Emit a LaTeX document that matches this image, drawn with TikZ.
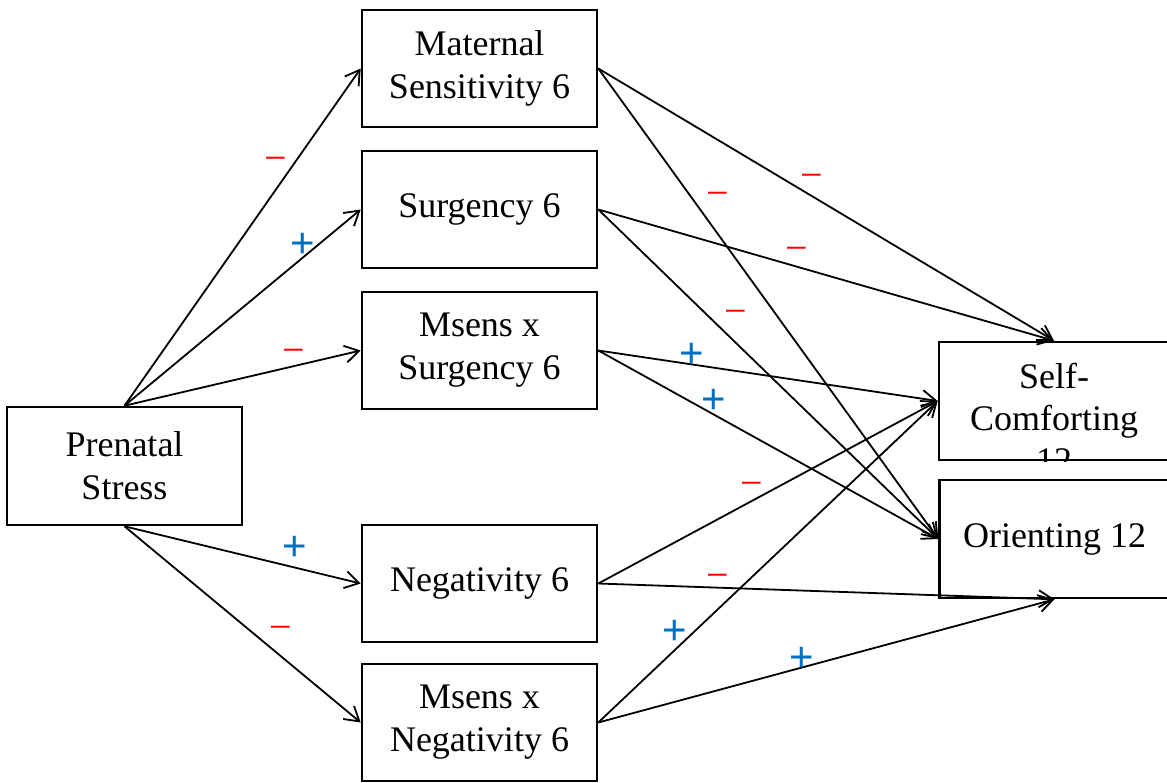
\documentclass[tikz,border=0pt]{standalone}
\usepackage{fontspec}
\setmainfont{Liberation Serif}
\newfontfamily\signfont{Liberation Sans}
\usetikzlibrary{arrows.meta}
\definecolor{sred}{RGB}{255,0,0}
\definecolor{sblue}{RGB}{0,112,192}
\begin{document}
\begin{tikzpicture}[x=1pt,y=-1pt,
  box/.style={draw, line width=2.6pt, minimum width=235pt, minimum height=117pt,
              inner sep=0pt, align=center, font=\fontsize{36}{43}\selectfont},
  outbox/.style={box, minimum width=230pt, minimum height=118pt},
  link/.style={line width=1.8pt, -{Straight Barb[length=14pt,width=17pt,line width=1.8pt]}},
  negsign/.style={text=sred, font=\fontsize{40}{40}\selectfont, inner sep=0pt},
  possign/.style={text=sblue, font=\signfont\fontsize{42}{42}\selectfont, inner sep=0pt}]
\useasboundingbox (0,0) rectangle (1167,782);
\clip (0,0) rectangle (1167,782);

% boxes
\node[box, minimum height=118pt] (PS) at (124.5,466) {Prenatal\\Stress};
\node[box] (MS)  at (479.5,68.5)  {Maternal\\Sensitivity 6};
\node[box] (SU)  at (479.5,209.5) {Surgency 6};
\node[box] (MSS) at (479.5,350.5) {Msens x\\Surgency 6};
\node[box] (NE)  at (479.5,583.5) {Negativity 6};
\node[box] (MSN) at (479.5,722.5) {Msens x\\Negativity 6};
\node[outbox] (SC) at (1054,401) {};
\begin{scope}
  \clip (SC.south west) rectangle (SC.north east);
  \node[align=center, inner sep=0pt, font=\fontsize{36}{42}\selectfont] (SCt) at (1054,418) {Self-\\Comforting\\12};
\end{scope}
\node[outbox] (OR) at (1054.5,539) {Orienting 12};

% prenatal stress paths
\draw[link] (PS.north) -- (MS.west);
\draw[link] (PS.north) -- (SU.west);
\draw[link] (PS.north) -- (MSS.west);
\draw[link] (PS.south) -- (NE.west);
\draw[link] (PS.south) -- (MSN.west);

% outcome paths
\draw[link] (MS.east) -- (SC.north);
\draw[link] (MS.east) -- (OR.west);
\draw[link] (SU.east) -- (SC.north);
\draw[link] (SU.east) -- (OR.west);
\draw[link] (MSS.east) -- (SC.west);
\draw[link] (MSS.east) -- (OR.west);
\draw[link] (NE.east) -- (SC.west);
\draw[link] (NE.east) -- (OR.south);
\draw[link] (MSN.east) -- (SC.west);
\draw[link] (MSN.east) -- (OR.south);

% signs
\node[negsign] (s1) at (275.5,164) {−};
\node[possign] (s2) at (303,245) {+};
\node[negsign] (s3) at (294,356) {−};
\node[possign] (s4) at (295,548) {+};
\node[negsign] (s5) at (281,633) {−};
\node[negsign] (s6) at (811.5,181) {−};
\node[negsign] (s7) at (718,199) {−};
\node[negsign] (s8) at (797,254) {−};
\node[negsign] (s9) at (735.5,317) {−};
\node[possign] (s10) at (692,355) {+};
\node[possign] (s11) at (714,401.5) {+};
\node[negsign] (s12) at (751.5,489) {−};
\node[negsign] (s13) at (718,581) {−};
\node[possign] (s14) at (675,632) {+};
\node[possign] (s15) at (801.5,659) {+};
\end{tikzpicture}
\end{document}
